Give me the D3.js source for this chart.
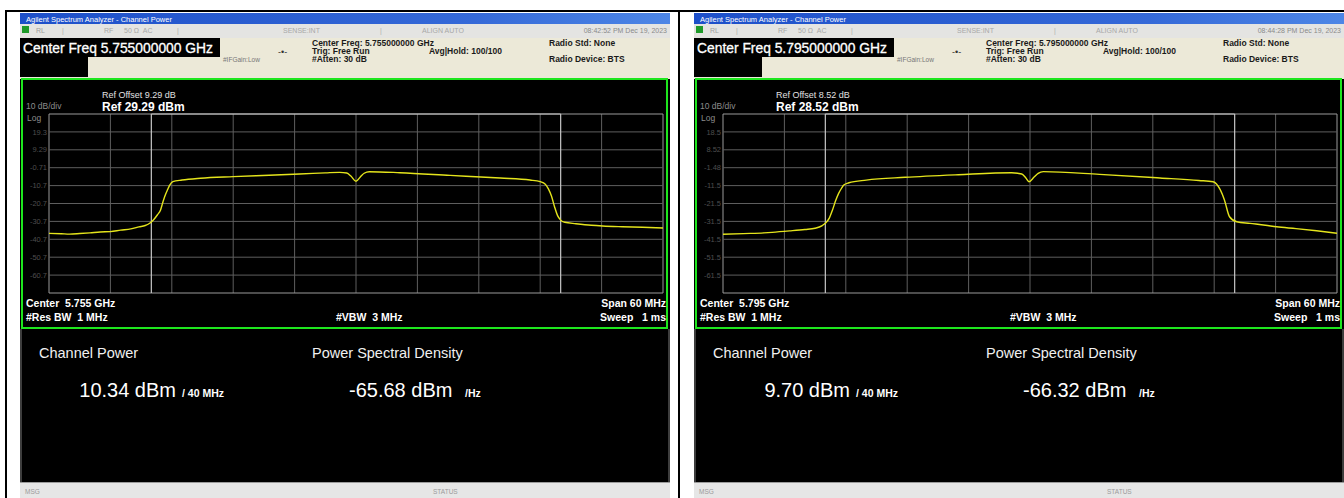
<!DOCTYPE html>
<html>
<head>
<meta charset="utf-8">
<script src="https://cdn.jsdelivr.net/npm/d3@7"></script>
<style>
  body { margin: 0; background: #fff; }
  svg text { font-family: "Liberation Sans", Arial, sans-serif; white-space: pre; }
</style>
</head>
<body>
<svg id="chart" width="1344" height="498"></svg>
<script>
// trace readings, offset from centre frequency (MHz) and level (dBm)
var leftFreq = [-30, -28.8, -28, -27, -26, -25, -24, -23, -22, -21.2, -20.6, -20.2, -19.8, -19.4, -19.1, -18.9, -18.7, -18.4, -18.2, -17.9, -17, -15.2, -12, -8.5, -5.5, -3, -1.6, -0.9, -0.5, 0, 0.4, 0.8, 1.3, 4.3, 9.2, 14.1, 17, 18, 18.5, 18.8, 19.1, 19.4, 19.7, 20, 20.4, 21.5, 23, 24.1, 26, 28, 30];
var leftLevel = [-37.4, -37.6, -37.8, -37.5, -37.1, -36.6, -36.4, -35.6, -34.9, -33.8, -33.0, -31.9, -29.9, -27.0, -24.3, -20.5, -16.9, -12.8, -10.4, -8.5, -7.6, -6.6, -5.7, -4.9, -4.2, -3.6, -3.3, -3.7, -5.4, -8.3, -6.0, -3.8, -2.95, -3.5, -5.0, -6.5, -7.6, -8.5, -9.9, -12.5, -16.5, -22.5, -27.5, -30.0, -31.2, -32.0, -32.9, -33.3, -33.7, -34.0, -34.4];

var rightFreq = [-30, -28, -26, -25.2, -23.5, -22, -21, -20.3, -20, -19.6, -19.3, -19, -18.7, -18.4, -18.2, -17.7, -16, -12.2, -7, -1.8, -0.8, -0.4, -0.1, 0.4, 0.8, 1.3, 6.8, 12.7, 16.5, 17.9, 18.6, 19, 19.5, 20.2, 21.5, 23, 24.1, 26, 28, 30];
var rightLevel = [-38.7, -38.3, -37.9, -37.6, -36.8, -36.0, -35.3, -33.8, -32.5, -29.5, -25.1, -20.0, -15.8, -12.8, -11.1, -9.9, -8.4, -6.85, -5.4, -4.3, -5.0, -7.2, -9.3, -6.7, -4.6, -3.7, -5.2, -7.2, -8.6, -9.3, -13.9, -19.5, -28.9, -31.7, -32.6, -33.6, -34.5, -35.5, -36.7, -38.1];

var leftYLabels = ["19.3", "9.29", "-0.71", "-10.7", "-20.7", "-30.7", "-40.7", "-50.7", "-60.7"];
var rightYLabels = ["18.5", "8.52", "-1.48", "-11.5", "-21.5", "-31.5", "-41.5", "-51.5", "-61.5"];

var refLevels = [29.29, 28.52];
var refOffsets = ["9.29", "8.52"];
var centerGHz = ["5.755", "5.795"];
var timestamps = ["08:42:52 PM Dec 19, 2023", "08:44:28 PM Dec 19, 2023"];
var channelPower = ["10.34", "9.70"];
var psd = ["-65.68", "-66.32"];

var spanMHz = 60, channelBW = 40, dbPerDiv = 10, divisions = 10;

var svg = d3.select("#chart");

var defs = svg.append("defs");
var grad = defs.append("linearGradient").attr("id", "titlebar");
grad.append("stop").attr("offset", "0%").attr("stop-color", "#1d4fc9");
grad.append("stop").attr("offset", "70%").attr("stop-color", "#3569d8");
grad.append("stop").attr("offset", "100%").attr("stop-color", "#4d86e6");

// outer table lines
svg.append("rect").attr("x", 5).attr("y", 10).attr("width", 1339).attr("height", 2).attr("fill", "#000");
svg.append("rect").attr("x", 5).attr("y", 10).attr("width", 2).attr("height", 488).attr("fill", "#000");
svg.append("rect").attr("x", 678).attr("y", 10).attr("width", 2).attr("height", 488).attr("fill", "#000");

function txt(g, x, y, s, size, fill, weight, anchor) {
  return g.append("text")
    .attr("x", x).attr("y", y)
    .attr("font-size", size)
    .attr("fill", fill)
    .attr("font-weight", weight || "normal")
    .attr("text-anchor", anchor || "start")
    .text(s);
}

function drawPanel(ox, i, freq, level, yLabels) {
  var g = svg.append("g").attr("transform", "translate(" + ox + ",0)");
  var ref = refLevels[i];

  // screen body
  g.append("rect").attr("x", 20).attr("y", 13).attr("width", 650).attr("height", 485).attr("fill", "#000");

  // window title
  g.append("rect").attr("x", 20).attr("y", 13).attr("width", 650).attr("height", 11).attr("fill", "url(#titlebar)");
  txt(g, 26, 21.5, "Agilent Spectrum Analyzer - Channel Power", 7.5, "#fff");

  // status row
  g.append("rect").attr("x", 20).attr("y", 24).attr("width", 650).attr("height", 14).attr("fill", "#e4e4e2");
  g.append("rect").attr("x", 22).attr("y", 26).attr("width", 7).attr("height", 7).attr("fill", "#1f9a2a");
  txt(g, 36, 33, "RL", 7, "#a0a0a0");
  txt(g, 62, 33, "|", 7, "#b0b0b0");
  txt(g, 104, 33, "RF", 7, "#a8a8a8");
  txt(g, 124, 33, "50 Ω  AC", 7, "#a8a8a8");
  txt(g, 177, 33, "|", 7, "#b0b0b0");
  txt(g, 283, 33, "SENSE:INT", 7, "#a8a8a8");
  txt(g, 380, 33, "|", 7, "#b0b0b0");
  txt(g, 422, 33, "ALIGN AUTO", 7, "#a8a8a8");
  txt(g, 667, 33, timestamps[i], 7, "#8a8a8a", "normal", "end");

  // settings area
  g.append("rect").attr("x", 20).attr("y", 38).attr("width", 650).attr("height", 41).attr("fill", "#ece9d8");
  g.append("rect").attr("x", 20).attr("y", 38).attr("width", 200).attr("height", 19).attr("fill", "#000");
  g.append("rect").attr("x", 20).attr("y", 57).attr("width", 68).attr("height", 20).attr("fill", "#000");
  txt(g, 23, 53, "Center Freq " + centerGHz[i] + "000000 GHz", 14, "#fff")
    .attr("stroke", "#fff").attr("stroke-width", 0.3)
    .attr("textLength", 190).attr("lengthAdjust", "spacingAndGlyphs");
  txt(g, 223, 62, "#IFGain:Low", 6.5, "#777");
  txt(g, 278, 55, "-•-", 9, "#333");
  txt(g, 312, 46, "Center Freq: " + centerGHz[i] + "000000 GHz", 8.5, "#1a1a1a", "bold");
  txt(g, 312, 54, "Trig: Free Run", 8.5, "#1a1a1a", "bold");
  txt(g, 312, 62, "#Atten: 30 dB", 8.5, "#1a1a1a", "bold");
  txt(g, 429, 54, "Avg|Hold: 100/100", 8.5, "#1a1a1a", "bold");
  txt(g, 549, 46, "Radio Std: None", 8.5, "#1a1a1a", "bold");
  txt(g, 549, 62, "Radio Device: BTS", 8.5, "#1a1a1a", "bold");

  // trace window
  g.append("rect").attr("x", 22).attr("y", 79).attr("width", 645).attr("height", 249)
    .attr("fill", "#000").attr("stroke", "#1ee61e").attr("stroke-width", 2);

  var x = d3.scaleLinear().domain([-spanMHz / 2, spanMHz / 2]).range([49, 663]);
  var y = d3.scaleLinear().domain([ref - dbPerDiv * divisions, ref]).range([293, 114]);

  var xGrid = d3.range(-spanMHz / 2, spanMHz / 2 + 0.01, spanMHz / divisions);
  var yGrid = d3.range(0, divisions + 1).map(function(k) { return ref - k * dbPerDiv; });

  g.append("g").selectAll("line").data(xGrid).enter().append("line")
    .attr("x1", function(d) { return x(d); }).attr("x2", function(d) { return x(d); })
    .attr("y1", y.range()[1]).attr("y2", y.range()[0])
    .attr("stroke", function(d, k) { return (k == 0 || k == divisions) ? "#9a9a9a" : "#5e5e5e"; })
    .attr("stroke-width", 1);
  g.append("g").selectAll("line").data(yGrid).enter().append("line")
    .attr("x1", x.range()[0]).attr("x2", x.range()[1])
    .attr("y1", function(d) { return y(d); }).attr("y2", function(d) { return y(d); })
    .attr("stroke", function(d, k) { return (k == 0 || k == divisions) ? "#9a9a9a" : "#5e5e5e"; })
    .attr("stroke-width", 1);

  // channel bandwidth markers
  g.append("g").selectAll("line").data([-channelBW / 2, channelBW / 2]).enter().append("line")
    .attr("x1", function(d) { return x(d); }).attr("x2", function(d) { return x(d); })
    .attr("y1", y(ref)).attr("y2", y(ref - 100))
    .attr("stroke", "#c8c8c8").attr("stroke-width", 1.2);
  g.append("line")
    .attr("x1", x(-channelBW / 2)).attr("x2", x(channelBW / 2))
    .attr("y1", y(ref)).attr("y2", y(ref))
    .attr("stroke", "#c8c8c8").attr("stroke-width", 1.2);

  // level labels
  g.append("g").selectAll("text").data(yLabels).enter().append("text")
    .attr("x", 47).attr("y", function(d, k) { return y(ref - (k + 1) * dbPerDiv); })
    .attr("dy", "0.35em").attr("text-anchor", "end")
    .attr("font-size", 7.5).attr("fill", "#4e4e4e")
    .text(function(d) { return d; });

  txt(g, 26, 109, "10 dB/div", 8.5, "#8c8c8c");
  txt(g, 27, 121, "Log", 8.5, "#8c8c8c");
  txt(g, 102, 98, "Ref Offset " + refOffsets[i] + " dB", 9, "#e0e0e0");
  txt(g, 102, 111, "Ref " + ref.toFixed(2) + " dBm", 12, "#fff", "bold");

  var pts = freq.map(function(f, k) { return [f, level[k]]; });
  var line = d3.line()
    .x(function(d) { return x(d[0]); })
    .y(function(d) { return y(d[1]); })
    .curve(d3.curveMonotoneX);
  g.append("path").datum(pts)
    .attr("d", line)
    .attr("fill", "none")
    .attr("stroke", "#e4e41c")
    .attr("stroke-width", 1.4);

  txt(g, 26, 307, "Center  " + centerGHz[i] + " GHz", 10.5, "#fff", "bold");
  txt(g, 26, 321, "#Res BW  1 MHz", 10.5, "#fff", "bold");
  txt(g, 336, 321, "#VBW  3 MHz", 10.5, "#fff", "bold");
  txt(g, 666, 307, "Span 60 MHz", 10.5, "#fff", "bold", "end");
  txt(g, 666, 321, "Sweep   1 ms", 10.5, "#fff", "bold", "end");

  // results area
  g.append("line").attr("x1", 21).attr("x2", 21).attr("y1", 329).attr("y2", 482).attr("stroke", "#7a7a7a");
  g.append("line").attr("x1", 669).attr("x2", 669).attr("y1", 329).attr("y2", 482).attr("stroke", "#7a7a7a");
  txt(g, 39, 358, "Channel Power", 14.5, "#f0f0f0");
  txt(g, 312, 358, "Power Spectral Density", 14.5, "#f0f0f0");
  txt(g, 176, 397, channelPower[i] + " dBm", 20, "#fff", "normal", "end");
  txt(g, 182, 397, "/ 40 MHz", 10.5, "#fff", "bold");
  txt(g, 349, 397, psd[i] + " dBm", 20, "#fff");
  txt(g, 465, 397, "/Hz", 10.5, "#fff", "bold");

  // message bar
  g.append("rect").attr("x", 20).attr("y", 482).attr("width", 650).attr("height", 16).attr("fill", "#e6e6e6");
  g.append("line").attr("x1", 20).attr("x2", 670).attr("y1", 482.5).attr("y2", 482.5).attr("stroke", "#9c9c9c");
  txt(g, 25, 494, "MSG", 6.5, "#9a9a9a");
  txt(g, 433, 494, "STATUS", 6.5, "#9a9a9a");
}

drawPanel(0, 0, leftFreq, leftLevel, leftYLabels);
drawPanel(674, 1, rightFreq, rightLevel, rightYLabels);
</script>
</body>
</html>
